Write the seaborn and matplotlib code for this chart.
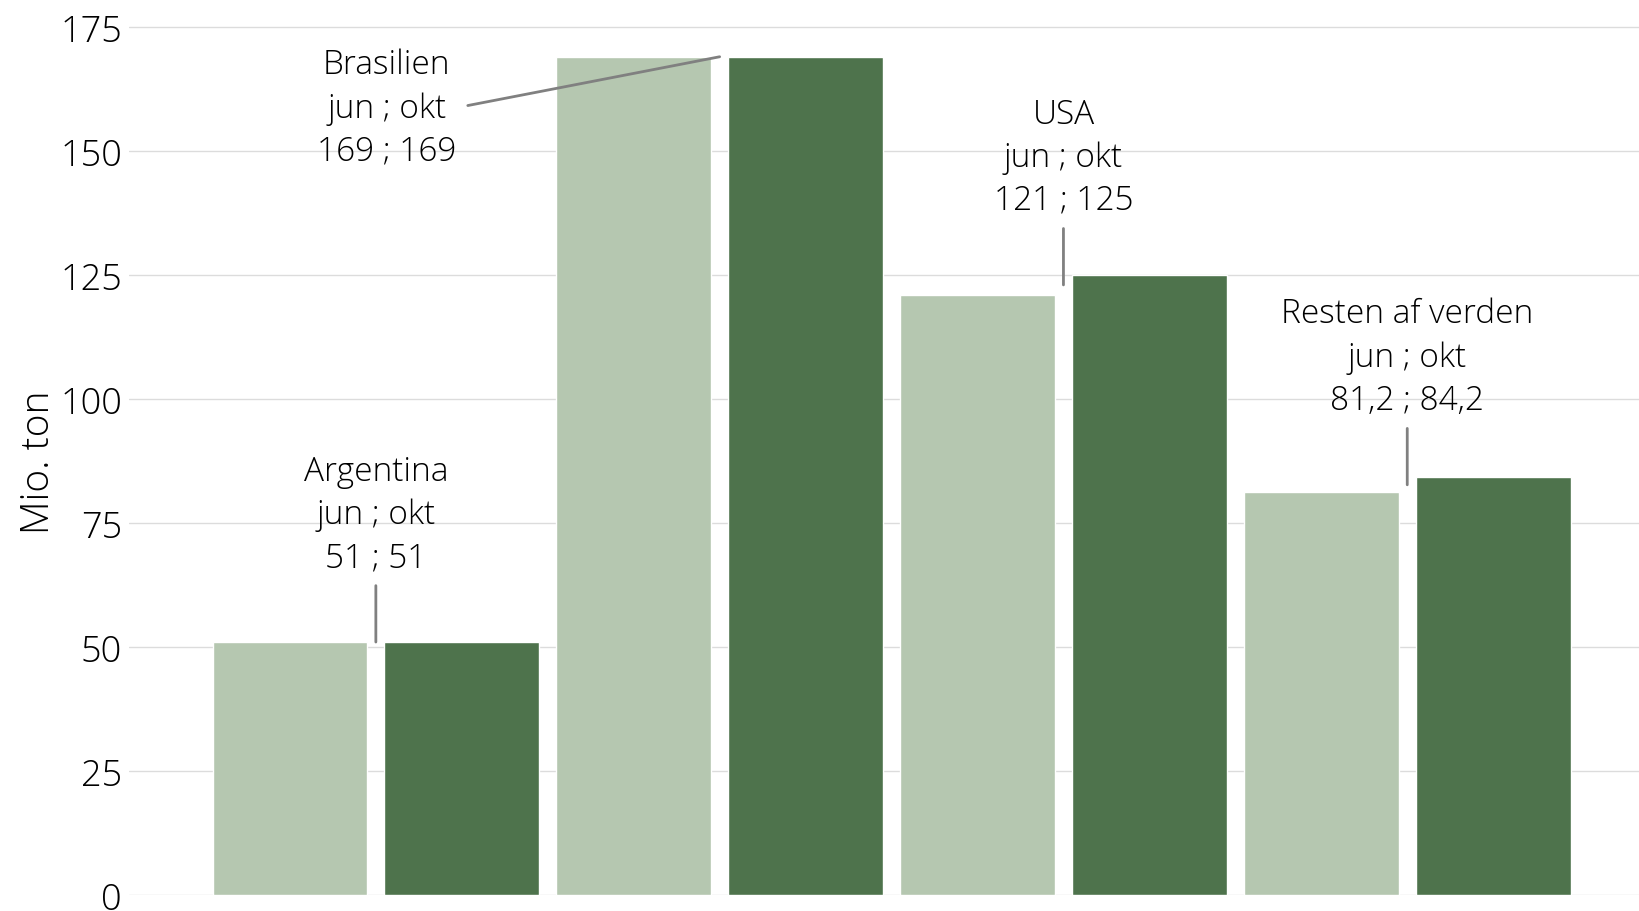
import matplotlib
matplotlib.use("Agg")
import matplotlib.pyplot as plt
import seaborn as sns
import pandas as pd

# data
lande = ['Argentina', 'Brasilien', 'USA', 'Resten af verden']
jun = [51, 169, 121, 81.2]
okt = [51, 169, 125, 84.2]
maaneder = ['jun', 'okt']
farver = ['#b5c7b0', '#4e734c']
y_ticks = [0, 25, 50, 75, 100, 125, 150, 175]

df = pd.DataFrame({
    'land': lande * 2,
    'maaned': ['jun'] * len(lande) + ['okt'] * len(lande),
    'vaerdi': jun + okt,
})

sns.set_style('white')
plt.rcParams['font.family'] = ['Open Sans', 'DejaVu Sans']
plt.rcParams['font.weight'] = 'light'
plt.rcParams['axes.labelweight'] = 'light'
plt.rcParams['text.color'] = 'black'
plt.rcParams['axes.labelcolor'] = 'black'
plt.rcParams['ytick.color'] = 'black'


def fmt(v):
    # dansk decimalkomma
    if float(v).is_integer():
        return str(int(v))
    return f"{v:.1f}".replace('.', ',')


fig = plt.figure(figsize=(16.4, 9.12), dpi=100)
ax = fig.add_axes([129 / 1640, 16 / 912, 1 - 129 / 1640, 892.8 / 912])

sns.barplot(data=df, x='land', y='vaerdi', hue='maaned', hue_order=maaneder,
            palette=farver, width=1.0, gap=0.1, saturation=1, legend=False, ax=ax)

ax.set_xlim(-0.718, 3.677)
ax.set_ylim(0, 180)
ax.set_yticks(y_ticks)
ax.set_xticks([])
ax.set_xlabel('')
ax.set_ylabel('Mio. ton', fontsize=28)
ax.yaxis.set_label_coords(-0.047, 0.486)
ax.tick_params(axis='y', labelsize=26, length=0, pad=5)
ax.yaxis.grid(True, color='#dcdcdc', linewidth=1)
ax.set_axisbelow(True)
for s in ax.spines.values():
    s.set_visible(False)

# annoteringer
linje = dict(arrowstyle='-', color='#808080', lw=2, shrinkB=0)
for i, land in enumerate(lande):
    tekst = f"{land}\njun ; okt\n{fmt(jun[i])} ; {fmt(okt[i])}"
    midt = (jun[i] + okt[i]) / 2
    if land == 'Brasilien':
        ax.annotate(tekst, xy=(i, midt), xytext=(-333, -51), textcoords='offset pixels',
                    ha='center', va='center', multialignment='center', fontsize=24,
                    linespacing=1.38,
                    arrowprops=dict(linje, relpos=(1, 0.5), shrinkA=6))
    else:
        ax.annotate(tekst, xy=(i, midt), xytext=(0, 68), textcoords='offset pixels',
                    ha='center', va='bottom', multialignment='center', fontsize=24,
                    linespacing=1.38,
                    arrowprops=dict(linje, relpos=(0.5, 0), shrinkA=6))

fig.savefig('out.png', dpi=100)
